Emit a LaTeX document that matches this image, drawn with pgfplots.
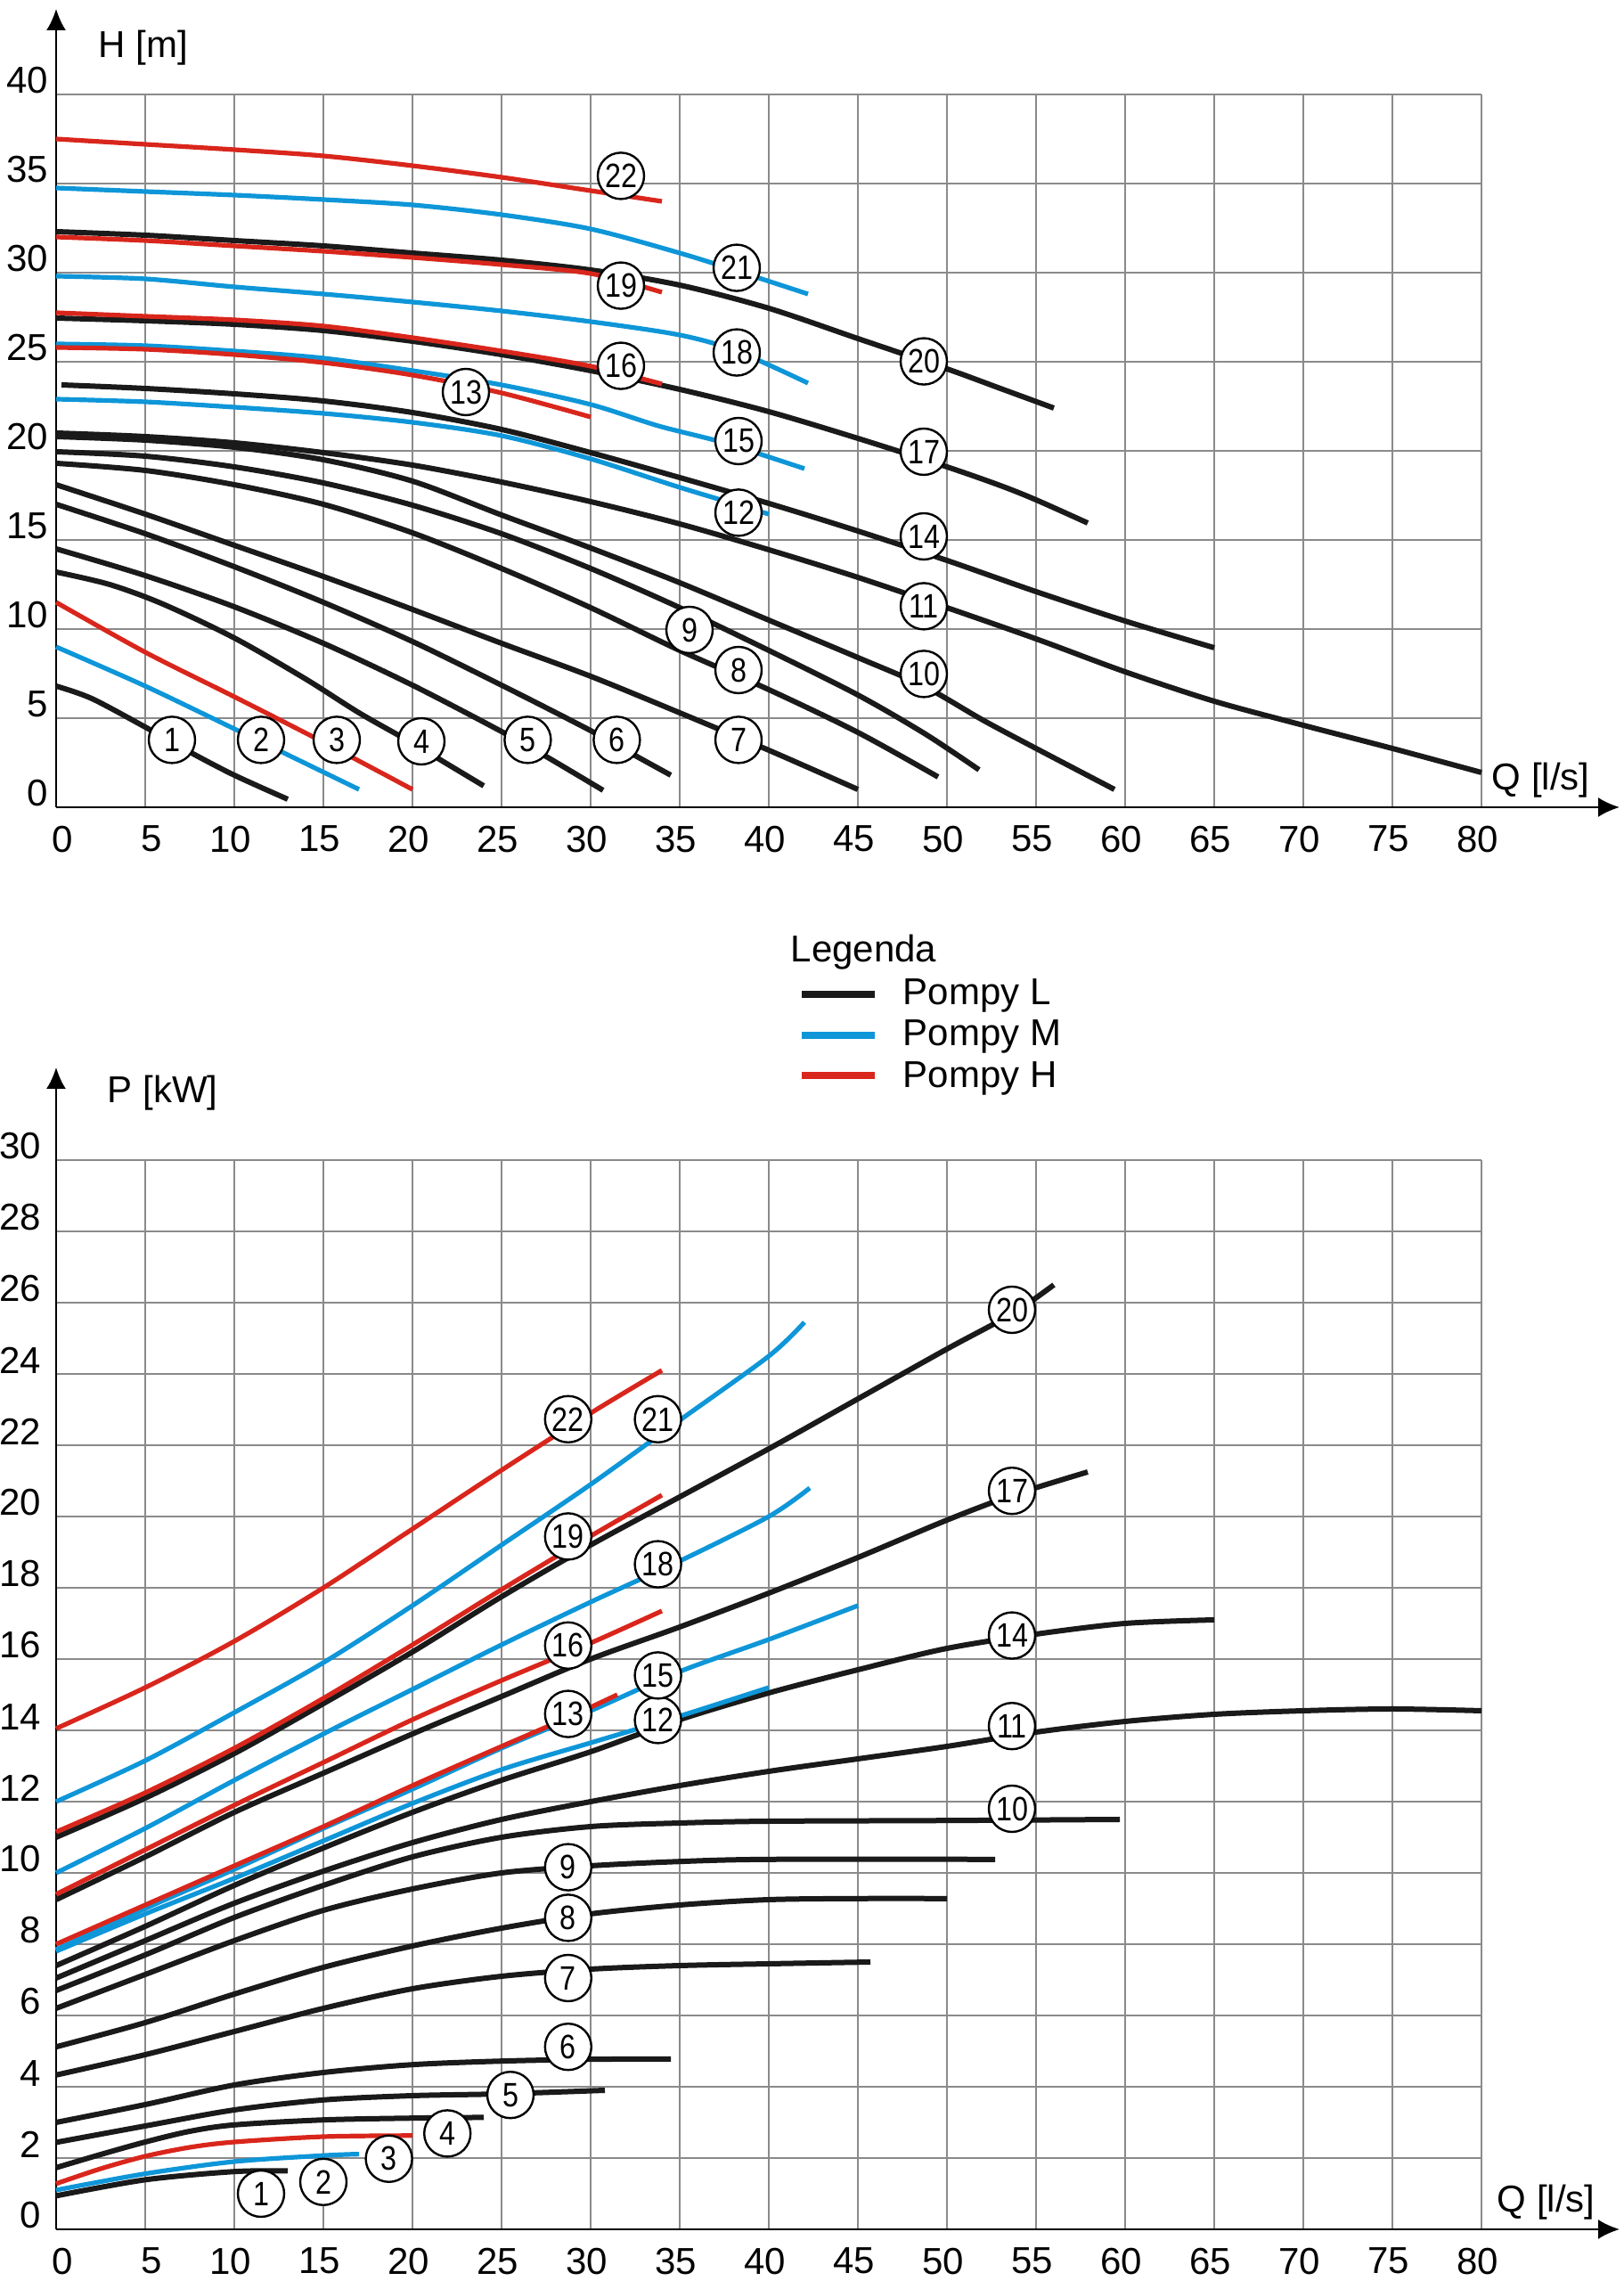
\documentclass[border=0pt]{standalone}
\usepackage{fontspec}
\setmainfont{Liberation Sans}
\newfontfamily\cnum{Liberation Sans}[FakeStretch=0.85]
\usepackage{pgfplots}
\pgfplotsset{compat=1.18}
\usetikzlibrary{arrows.meta}

\definecolor{pumpL}{HTML}{1A1A1A}
\definecolor{pumpM}{HTML}{0E96D8}
\definecolor{pumpH}{HTML}{D9261C}
\definecolor{gridc}{HTML}{8A8A8A}

\pgfplotsset{
  pumpchart/.style={
    scale only axis, width=400pt, clip=false,
    xmin=0, xmax=80, ymin=0,
    xtick={0,5,...,80},
    axis x line*=bottom, axis y line*=left,
    major tick length=0pt,
    grid=major, major grid style={draw=gridc, line width=0.35pt},
    axis line style={line width=0.6pt, black},
    tick label style={font=\fontsize{10.5}{12}\selectfont},
    /pgf/number format/assume math mode=true,
    xticklabel style={anchor=north east, inner sep=0pt, xshift=5pt, yshift=-5pt},
    x axis line style={-{Latex[length=6pt,width=5.5pt]}, shorten >=-38.75pt},
  },
  L/.style={draw=pumpL, line width=1.5pt, smooth},
  M/.style={draw=pumpM, line width=1.3pt, smooth},
  H/.style={draw=pumpH, line width=1.3pt, smooth},
  tag/.style={draw=none, mark=none, nodes near coords, point meta=explicit symbolic,
    nodes near coords align={center},
    every node near coord/.append style={circle, draw=black, line width=0.6pt, fill=white,
      inner sep=0pt, minimum size=13pt, text=black, font=\cnum\fontsize{9.5}{10}\selectfont}},
}

\begin{document}
\begin{tikzpicture}
\useasboundingbox (0,0) rectangle (455.5pt,640pt);

% ---------- H(Q) ----------
\begin{axis}[pumpchart, height=200pt, ymax=40, ytick={0,5,...,40},
  at={(15.75pt,413.5pt)}, anchor=south west,
  yticklabel style={anchor=south east, inner sep=0pt, xshift=-2pt},
  y axis line style={-{Latex[length=6pt,width=5.5pt]}, shorten >=-24pt}]

% pompy L
\addplot[L] coordinates {(0,6.8)(2,6.1)(5,4.5)(7.5,3.1)(10,1.8)(13,0.45)};
\addplot[L] coordinates {(0,13.2)(3,12.5)(6,11.4)(10,9.5)(14,7.2)(17,5.3)(20,3.6)(22,2.4)(24,1.2)};
\addplot[L] coordinates {(0,14.5)(5,13.0)(10,11.25)(15,9.2)(20,6.85)(25,4.25)(27.5,2.85)(30.7,0.95)};
\addplot[L] coordinates {(0,17.0)(5,15.35)(10,13.5)(15,11.5)(20,9.3)(25,6.85)(30,4.3)(32.5,2.9)(34.5,1.8)};
\addplot[L] coordinates {(0,18.1)(5,16.45)(10,14.7)(15,12.95)(20,11.1)(25,9.2)(30,7.35)(35,5.3)(40,3.2)(45,1.0)};
\addplot[L] coordinates {(0,19.3)(5,18.9)(10,18.1)(15,17.0)(20,15.4)(25,13.4)(30,11.2)(35,8.8)(40,6.6)(45,4.2)(49.5,1.7)};
\addplot[L] coordinates {(0,19.95)(5,19.7)(10,19.1)(15,18.2)(20,16.95)(25,15.35)(30,13.4)(35,11.2)(40,8.8)(45,6.3)(48.8,4.1)(51.8,2.1)};
\addplot[L] coordinates {(0,20.8)(5,20.6)(10,20.2)(15,19.5)(20,18.3)(25,16.4)(30,14.55)(35,12.6)(40,10.5)(45,8.4)(48.7,6.8)(52,4.9)(55,3.3)(59.4,1.0)};
\addplot[L] coordinates {(0,21.0)(5,20.8)(10,20.45)(15,19.9)(20,19.2)(25,18.25)(30,17.15)(35,15.9)(40,14.45)(45,12.9)(50,11.2)(55,9.45)(60,7.6)(65,5.95)(70,4.6)(75,3.3)(80,1.95)};
\addplot[L] coordinates {(0.3,23.7)(5,23.5)(10,23.2)(15,22.8)(20,22.15)(25,21.2)(30,19.9)(35,18.5)(40,17.05)(45,15.5)(50,13.85)(55,12.1)(60,10.45)(65,8.95)};
\addplot[L] coordinates {(0,27.45)(5,27.3)(10,27.1)(15,26.75)(20,26.15)(25,25.4)(30,24.5)(35,23.45)(40,22.2)(45,20.7)(50,19.1)(53,18.05)(55,17.25)(57.9,15.95)};
\addplot[L] coordinates {(0,32.3)(5,32.1)(10,31.8)(15,31.5)(20,31.1)(25,30.7)(30,30.15)(35,29.3)(40,28.0)(45,26.3)(50,24.6)(53,23.5)(56,22.4)};

% pompy M
\addplot[M] coordinates {(0,9.0)(5,6.8)(10,4.4)(13.5,2.7)(17,1.0)};
\addplot[M] coordinates {(0,22.9)(5,22.75)(10,22.45)(15,22.1)(20,21.6)(25,20.85)(30,19.55)(35,17.95)(40,16.45)};
\addplot[M] coordinates {(0,26.0)(5,25.9)(10,25.6)(15,25.2)(20,24.5)(25,23.7)(30,22.6)(33.8,21.4)(37.5,20.45)(42,19.0)};
\addplot[M] coordinates {(0,29.8)(5,29.65)(10,29.2)(15,28.8)(20,28.35)(25,27.85)(30,27.25)(35,26.5)(38.2,25.6)(42.2,23.8)};
\addplot[M] coordinates {(0,34.75)(5,34.55)(10,34.35)(15,34.1)(20,33.8)(25,33.25)(30,32.45)(35,31.1)(38.2,30.1)(42.2,28.8)};

% pompy H
\addplot[H] coordinates {(0,11.5)(5,8.7)(10,6.2)(15,3.65)(20,1.0)};
\addplot[H] coordinates {(0,25.8)(5,25.7)(10,25.4)(15,24.95)(20,24.25)(25,23.25)(30,21.9)};
\addplot[H] coordinates {(0,27.75)(5,27.55)(10,27.35)(15,27.0)(20,26.35)(25,25.6)(30,24.75)(34,23.75)};
\addplot[H] coordinates {(0,32.0)(5,31.8)(10,31.5)(15,31.2)(20,30.85)(25,30.45)(30,29.95)(34,28.9)};
\addplot[H] coordinates {(0,37.5)(5,37.2)(10,36.9)(15,36.55)(20,36.0)(25,35.35)(30,34.6)(34,34.0)};

% numery pomp
\addplot[tag] table[meta=lab, row sep=\\] {
x y lab\\
6.5 3.78 1\\ 11.5 3.78 2\\ 15.75 3.78 3\\ 20.5 3.7 4\\ 26.47 3.78 5\\
31.47 3.78 6\\ 38.3 3.78 7\\ 38.3 7.7 8\\ 35.55 9.95 9\\ 48.7 7.48 10\\
48.7 11.28 11\\ 38.3 16.53 12\\ 23.0 23.3 13\\ 48.7 15.2 14\\ 38.3 20.55 15\\
31.7 24.77 16\\ 48.7 19.95 17\\ 38.2 25.52 18\\ 31.7 29.27 19\\ 48.7 25.02 20\\
38.2 30.27 21\\ 31.7 35.43 22\\
};

\node[anchor=base west, inner sep=0pt, font=\fontsize{10.5}{12}\selectfont] at (axis cs:2.35,42.05) {H [m]};
\node[anchor=base west, inner sep=0pt, font=\fontsize{10.5}{12}\selectfont] at (axis cs:80.55,0.95) {Q [l/s]};
\end{axis}

% ---------- P(Q) ----------
\begin{axis}[pumpchart, height=300pt, ymax=30, ytick={0,2,...,30},
  at={(15.75pt,14.5pt)}, anchor=south west,
  yticklabel style={anchor=south east, inner sep=0pt, xshift=-4pt},
  y axis line style={-{Latex[length=6pt,width=5.5pt]}, shorten >=-26pt}]

% pompy L
\addplot[L] coordinates {(0,0.94)(5,1.39)(10,1.62)(13,1.64)};
\addplot[L] coordinates {(0,1.73)(2.5,2.1)(5,2.45)(7.5,2.75)(10,2.93)(15,3.07)(20,3.12)(24,3.14)};
\addplot[L] coordinates {(0,2.44)(5,2.9)(10,3.35)(15,3.63)(20,3.75)(25,3.8)(30.8,3.9)};
\addplot[L] coordinates {(0,3.0)(5,3.5)(10,4.05)(15,4.4)(20,4.62)(25,4.72)(30,4.77)(34.5,4.78)};
\addplot[L] coordinates {(0,4.33)(5,4.9)(10,5.55)(15,6.2)(20,6.75)(25,7.1)(30,7.3)(35,7.4)(40,7.45)(45.7,7.5)};
\addplot[L] coordinates {(0,5.12)(5,5.8)(10,6.6)(15,7.35)(20,7.95)(25,8.45)(30,8.85)(35,9.1)(40,9.25)(45,9.28)(50,9.28)};
\addplot[L] coordinates {(0,6.2)(5,7.15)(10,8.1)(15,8.95)(20,9.55)(25,10.0)(30,10.2)(35,10.32)(40,10.38)(52.7,10.38)};
\addplot[L] coordinates {(0,6.7)(5,7.7)(10,8.75)(15,9.65)(20,10.45)(25,11.0)(30,11.3)(35,11.4)(40,11.45)(50,11.47)(59.7,11.5)};
\addplot[L] coordinates {(0,7.05)(5,8.1)(10,9.15)(15,10.05)(20,10.85)(25,11.5)(30,12.0)(35,12.45)(40,12.85)(45,13.2)(50,13.55)(55,13.95)(60,14.25)(65,14.45)(70,14.55)(75,14.6)(80,14.55)};
\addplot[L] coordinates {(0,7.4)(5,8.5)(10,9.65)(15,10.7)(20,11.7)(25,12.6)(30,13.4)(35,14.3)(40,15.05)(45,15.7)(50,16.3)(55,16.7)(60,17.0)(65,17.1)};
\addplot[L] coordinates {(0,9.25)(5,10.45)(10,11.7)(15,12.8)(20,13.9)(25,14.95)(30,16.0)(35,16.9)(40,17.85)(45,18.85)(50,19.9)(53.7,20.6)(57.9,21.25)};
\addplot[L] coordinates {(0,11.0)(5,12.1)(10,13.35)(15,14.75)(20,16.2)(25,17.75)(30,19.2)(35,20.55)(40,21.9)(45,23.3)(50,24.7)(53.7,25.7)(56,26.5)};

% pompy M
\addplot[M] coordinates {(0,1.1)(5,1.56)(10,1.9)(15,2.07)(17,2.11)};
\addplot[M] coordinates {(0,7.8)(5,8.85)(10,9.85)(15,10.9)(20,11.95)(25,12.9)(30,13.65)(35,14.4)(40,15.2)};
\addplot[M] coordinates {(0,7.85)(5,9.0)(10,10.1)(15,11.25)(20,12.35)(25,13.5)(30,14.55)(35,15.65)(40,16.55)(45,17.5)};
\addplot[M] coordinates {(0,10.0)(5,11.25)(10,12.6)(15,13.9)(20,15.15)(25,16.4)(30,17.6)(35,18.75)(40,20.0)(42.3,20.8)};
\addplot[M] coordinates {(0,12.0)(5,13.15)(10,14.5)(15,15.9)(20,17.5)(25,19.2)(30,20.9)(35,22.7)(40,24.5)(42,25.45)};

% pompy H
\addplot[H] coordinates {(0,1.28)(2.5,1.7)(5,2.05)(7.5,2.3)(10,2.45)(15,2.6)(20,2.63)};
\addplot[H] coordinates {(0,8.0)(5,9.1)(10,10.2)(15,11.3)(20,12.45)(25,13.55)(28.7,14.35)(31.5,15.0)};
\addplot[H] coordinates {(0,9.4)(5,10.65)(10,11.9)(15,13.1)(20,14.3)(25,15.4)(30,16.45)(34,17.35)};
\addplot[H] coordinates {(0,11.15)(5,12.25)(10,13.5)(15,14.9)(20,16.4)(25,17.95)(30,19.45)(34,20.6)};
\addplot[H] coordinates {(0,14.05)(5,15.2)(10,16.5)(15,18.0)(20,19.65)(25,21.3)(30,22.9)(34,24.1)};

\addplot[tag] table[meta=lab, row sep=\\] {
x y lab\\
11.5 1.0 1\\ 15.0 1.33 2\\ 18.68 1.98 3\\ 21.96 2.69 4\\ 25.5 3.77 5\\
28.74 5.12 6\\ 28.74 7.05 7\\ 28.74 8.74 8\\ 28.74 10.16 9\\ 53.65 11.8 10\\
53.65 14.12 11\\ 33.78 14.29 12\\ 28.74 14.46 13\\ 53.65 16.66 14\\ 33.78 15.54 15\\
28.74 16.38 16\\ 53.65 20.72 17\\ 33.78 18.66 18\\ 28.74 19.44 19\\ 53.65 25.8 20\\
33.78 22.73 21\\ 28.74 22.73 22\\
};

\node[anchor=base west, inner sep=0pt, font=\fontsize{10.5}{12}\selectfont] at (axis cs:2.85,31.6) {P [kW]};
\node[anchor=base west, inner sep=0pt, font=\fontsize{10.5}{12}\selectfont] at (axis cs:80.85,0.5) {Q [l/s]};
\end{axis}

% ---------- legenda ----------
\begin{scope}[font=\fontsize{10.5}{12}\selectfont]
\node[anchor=base west, inner sep=0pt] at (221.75pt,370pt) {Legenda};
\draw[pumpL, line width=2pt] (225pt,361pt) -- (245.5pt,361pt);
\draw[pumpM, line width=2pt] (225pt,349.5pt) -- (245.5pt,349.5pt);
\draw[pumpH, line width=2pt] (225pt,338.25pt) -- (245.5pt,338.25pt);
\node[anchor=base west, inner sep=0pt] at (253.25pt,358pt) {Pompy L};
\node[anchor=base west, inner sep=0pt] at (253.25pt,346.5pt) {Pompy M};
\node[anchor=base west, inner sep=0pt] at (253.25pt,334.75pt) {Pompy H};
\end{scope}
\end{tikzpicture}
\end{document}
